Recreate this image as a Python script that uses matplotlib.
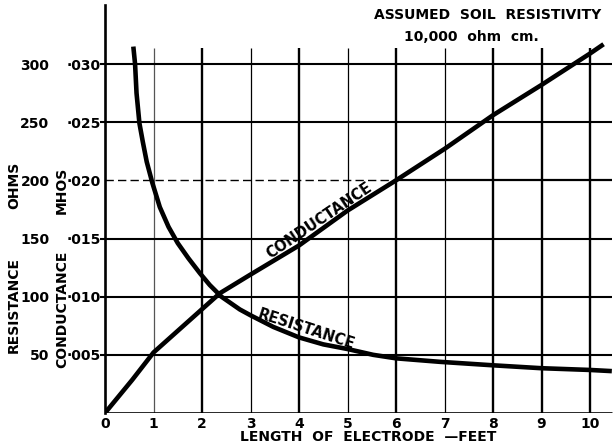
import numpy as np
import matplotlib
matplotlib.use("Agg")
import matplotlib.pyplot as plt

# Electrode length (feet) and measured curves
res_length = [0.584, 0.62, 0.65, 0.71, 0.78, 0.86, 0.975, 1.13, 1.31, 1.5, 1.72, 1.96, 2.16, 2.4,
              2.78, 3.0, 3.47, 4.0, 4.5, 5.0, 5.53, 6.0, 6.9, 8.0, 9.0, 10.0, 10.45]
resistance_ohms = [315, 300, 275, 249, 233, 216, 198, 177, 160, 146, 133, 120, 110, 100,
                   89, 84, 74, 65, 59, 55, 50, 47, 44, 41, 38.5, 37, 36]

cond_length = [0.0, 0.56, 1.0, 2.37, 3.0, 4.0, 5.0, 6.0, 7.0, 8.0, 9.0, 10.0, 10.28]
conductance_mhos = [0.0, 0.00284, 0.0052, 0.0103, 0.0119, 0.0144, 0.0174, 0.0200, 0.0227, 0.0256, 0.0282, 0.0309, 0.0317]

x_ticks = [0, 1, 2, 3, 4, 5, 6, 7, 8, 9, 10]
x_tick_labels = ["0", "1", "2", "3", "4", "5", "6", "7", "8", "9", "10"]
ohm_ticks = [50, 100, 150, 200, 250, 300]
ohm_labels = ["50", "100", "150", "200", "250", "300"]
mho_ticks = [0.005, 0.010, 0.015, 0.020, 0.025, 0.030]
mho_labels = ["·005", "·010", "·015", "·020", "·025", "·030"]

BOLD = dict(family="DejaVu Sans", weight="bold", color="black")

fig = plt.figure(figsize=(6.14, 4.48), dpi=100)
W, H = 614, 448
ax = fig.add_axes([105 / W, 35 / H, 509 / W, 408 / H])
ax.set_xlim(0, 509 / 48.5)
ax.set_ylim(0, 408 / 1.1633)

# conductance axis shares the same scale: 300 ohms <-> 0.030 mhos
scale = ohm_ticks[-1] / mho_ticks[-1]
ax2 = ax.twinx()
ax2.set_ylim(ax.get_ylim()[0] / scale, ax.get_ylim()[1] / scale)
ax2.set_position(ax.get_position())
for a in (ax, ax2):
    for s in ("top", "right", "bottom"):
        a.spines[s].set_visible(False)
ax2.spines["left"].set_visible(False)

ax.spines["left"].set_linewidth(1.9)

# vertical grid lines (odd feet drawn lighter)
v_top = 314
for xv in x_ticks[1:]:
    lw = 1.7 if xv % 2 == 0 or xv >= 8 else 0.9
    col = "black" if xv != 1 else "#555555"
    ax.vlines(xv, 0, v_top, color=col, lw=lw, zorder=1)

# horizontal grid lines
x_end = 10.45
for yv in ohm_ticks:
    if yv == 200:
        ax.hlines(yv, 0, 6.0, color="black", lw=1.0, linestyles=(0, (6, 3)), zorder=1)
        ax.hlines(yv, 6.0, x_end, color="black", lw=1.6, zorder=1)
    else:
        ax.hlines(yv, -0.1, x_end, color="black", lw=1.5, zorder=1, clip_on=False)

# base line
ax.hlines(0, 0, x_end, color="black", lw=1.9, zorder=1)

# curves
ax.plot(res_length, resistance_ohms, color="black", lw=3.3, solid_capstyle="butt",
        solid_joinstyle="round", zorder=3)
ax2.plot(cond_length, conductance_mhos, color="black", lw=3.3, solid_capstyle="butt",
         solid_joinstyle="round", zorder=3)

# ticks
ax.set_xticks(x_ticks)
ax.set_xticklabels(x_tick_labels, fontsize=10, **BOLD)
ax.tick_params(axis="x", length=0, pad=3)

ax.set_yticks(ohm_ticks)
ax.set_yticklabels(ohm_labels, fontsize=10, **BOLD)
ax.tick_params(axis="y", length=0, pad=40)

ax2.yaxis.tick_left()
ax2.set_yticks(mho_ticks)
ax2.set_yticklabels(mho_labels, fontsize=10, **BOLD)
ax2.tick_params(axis="y", length=0, pad=3)

# curve labels
xr = 4.1
ax.text(xr, np.interp(xr, res_length, resistance_ohms) + 2, "RESISTANCE", fontsize=10.5,
        rotation=-18, rotation_mode="anchor", ha="center", va="bottom", **BOLD)
xc = 4.5
ax2.text(xc, np.interp(xc, cond_length, conductance_mhos) + 0.0001, "CONDUCTANCE", fontsize=10.5,
         rotation=34, rotation_mode="anchor", ha="center", va="bottom", **BOLD)

# axis titles
fig.text(14 / W, 1 - 305 / H, "RESISTANCE", rotation=90, ha="center", va="center", fontsize=10, **BOLD)
fig.text(14 / W, 1 - 185 / H, "OHMS", rotation=90, ha="center", va="center", fontsize=10, **BOLD)
fig.text(62 / W, 1 - 309 / H, "CONDUCTANCE", rotation=90, ha="center", va="center", fontsize=10, **BOLD)
fig.text(62 / W, 1 - 190 / H, "MHOS", rotation=90, ha="center", va="center", fontsize=10, **BOLD)
fig.text(368 / W, 1 - 437 / H, "LENGTH  OF  ELECTRODE  —FEET", ha="center", va="center", fontsize=10, **BOLD)

# notes
fig.text(488 / W, 1 - 15 / H, "ASSUMED  SOIL  RESISTIVITY", ha="center", va="center", fontsize=10, **BOLD)
fig.text(471 / W, 1 - 37 / H, "10,000  ohm  cm.", ha="center", va="center", fontsize=10, **BOLD)

fig.savefig("out.png", dpi=100, facecolor="white")
